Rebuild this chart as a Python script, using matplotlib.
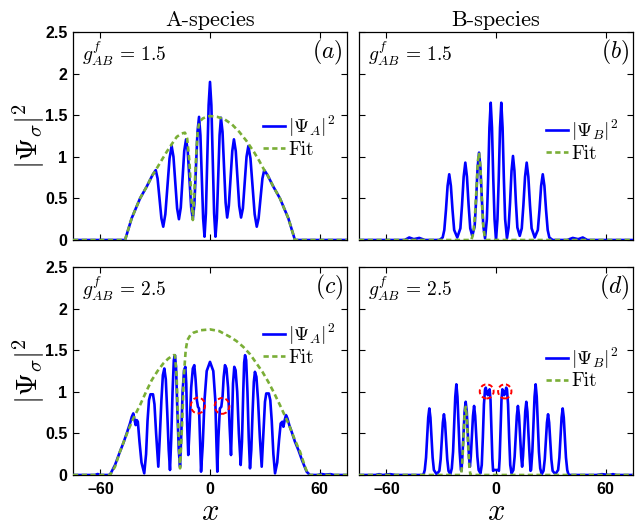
import matplotlib.pyplot as plt
import numpy as np
from matplotlib.patches import Ellipse

# ---- data: (x, |psi|^2) pairs ----

# (a) A-species, g = 1.5
a_psi = [(-75, 0), (-46.5, 0), (-42.9, 0.26), (-38.3, 0.50), (-34.7, 0.64), (-31.5, 0.78),
         (-29.7, 0.84), (-28.7, 0.74), (-27.65, 0.50), (-26.6, 0.26), (-25.6, 0.16),
         (-24.45, 0.31), (-23.3, 0.645), (-22.15, 0.98), (-21, 1.13), (-20, 1.0), (-19, 0.69),
         (-18, 0.38), (-17, 0.25), (-16, 0.39), (-15.05, 0.73), (-14.1, 1.07), (-13.1, 1.21),
         (-12.2, 1.07), (-11.25, 0.73), (-10.3, 0.39), (-9.4, 0.25), (-8.55, 0.43), (-7.7, 0.865),
         (-6.85, 1.30), (-6, 1.48), (-5.25, 1.26), (-4.5, 0.76), (-3.75, 0.26), (-3, 0.04),
         (-2.25, 0.32), (-1.5, 0.97), (-0.75, 1.62), (0, 1.90), (0.75, 1.62), (1.5, 0.97),
         (2.25, 0.32), (3, 0.04), (3.75, 0.26), (4.5, 0.76), (5.25, 1.26), (6, 1.47), (6.85, 1.30),
         (7.7, 0.87), (8.55, 0.45), (9.4, 0.27), (10.3, 0.41), (11.25, 0.74), (12.2, 1.07),
         (13.1, 1.21), (14.1, 1.07), (15.05, 0.74), (16, 0.41), (17, 0.27), (18, 0.38), (19, 0.69),
         (20, 1.0), (21, 1.13), (22.15, 0.98), (23.3, 0.645), (24.45, 0.31), (25.6, 0.16),
         (26.6, 0.26), (27.65, 0.50), (28.7, 0.74), (29.7, 0.84), (31.5, 0.78), (34.7, 0.64),
         (38.3, 0.50), (42.9, 0.26), (46.5, 0), (75, 0)]
a_fit = [(-75, 0), (-46.5, 0), (-42.9, 0.26), (-38.3, 0.50), (-34.7, 0.64), (-31.5, 0.78),
         (-29.7, 0.84), (-27, 0.94), (-23.7, 1.06), (-21, 1.15), (-18.2, 1.24), (-15.5, 1.28),
         (-13.7, 1.29), (-12.5, 1.22), (-11.3, 0.95), (-10.3, 0.55), (-9.4, 0.24), (-8.5, 0.6),
         (-7.6, 1.0), (-6.8, 1.3), (-5.8, 1.42), (-4, 1.46), (-2, 1.48), (0, 1.49), (4, 1.48),
         (8, 1.45), (12, 1.39), (16, 1.30), (20, 1.19), (24, 1.06), (27, 0.95), (29.7, 0.84),
         (31.5, 0.78), (34.7, 0.64), (38.3, 0.50), (42.9, 0.26), (46.5, 0), (75, 0)]

# (b) B-species, g = 1.5
b_psi = [(-75, 0), (-50, 0), (-47.5, 0.03), (-45, 0.01), (-42, 0.025), (-39, 0), (-31, 0),
         (-29.2, 0.03), (-28.3, 0.12), (-27.4, 0.36), (-26.5, 0.65), (-25.6, 0.79), (-24.7, 0.65),
         (-23.8, 0.36), (-22.9, 0.12), (-21.2, 0.03), (-19.5, 0.14), (-18.6, 0.42), (-17.7, 0.76),
         (-16.8, 0.93), (-15.9, 0.76), (-15.0, 0.42), (-14.1, 0.14), (-13.0, 0.05), (-11.7, 0.16),
         (-10.9, 0.47), (-10.1, 0.86), (-9.3, 1.05), (-8.5, 0.86), (-7.7, 0.47), (-6.9, 0.16),
         (-6.0, 0.02), (-5.0, 0.25), (-4.3, 0.74), (-3.6, 1.35), (-2.9, 1.65), (-2.2, 1.35),
         (-1.5, 0.74), (-0.8, 0.25), (0, 0), (0.8, 0.25), (1.5, 0.74), (2.2, 1.35), (2.9, 1.65),
         (3.6, 1.35), (4.3, 0.74), (5.0, 0.25), (6.0, 0.02), (6.9, 0.15), (7.7, 0.45), (8.5, 0.83),
         (9.3, 1.01), (10.1, 0.83), (10.9, 0.45), (11.7, 0.15), (13.0, 0.05), (14.1, 0.14),
         (15.0, 0.42), (15.9, 0.76), (16.8, 0.93), (17.7, 0.76), (18.6, 0.42), (19.5, 0.14),
         (21.2, 0.03), (22.9, 0.12), (23.8, 0.36), (24.7, 0.65), (25.6, 0.79), (26.5, 0.65),
         (27.4, 0.36), (28.3, 0.12), (29.2, 0.03), (31, 0), (39, 0), (42, 0.025), (45, 0.01),
         (47.5, 0.03), (50, 0), (75, 0)]
b_fit = [(-75, 0), (-13.5, 0), (-12.4, 0.08), (-11.5, 0.3), (-10.6, 0.65), (-9.9, 0.95),
         (-9.3, 1.05), (-8.6, 0.9), (-7.9, 0.55), (-7.1, 0.2), (-6.2, 0.03), (-5.5, 0), (75, 0)]

# (c) A-species, g = 2.5
c_psi = [(-75, 0), (-63, 0), (-61.5, 0.012), (-60, 0), (-55.5, 0), (-54.7, 0.005), (-52, 0.12),
         (-49.3, 0.28), (-47.5, 0.38), (-45.6, 0.50), (-43.8, 0.62), (-42.8, 0.70), (-42, 0.74),
         (-41.3, 0.66), (-40.7, 0.60), (-40.1, 0.66), (-39.5, 0.64), (-38.6, 0.40), (-37.5, 0.15),
         (-36.0, 0.02), (-35.0, 0.25), (-34.2, 0.65), (-33.4, 0.90), (-32.6, 0.97), (-31.2, 0.97),
         (-30.4, 0.85), (-29.5, 0.5), (-28.3, 0.10), (-27.5, 0.45), (-26.6, 0.90), (-25.8, 1.20),
         (-25.0, 1.28), (-24.2, 1.15), (-23.4, 0.75), (-22.6, 0.30), (-21.9, 0.06), (-21.2, 0.45),
         (-20.5, 1.0), (-19.8, 1.38), (-19.2, 1.44), (-18.6, 1.3), (-17.9, 0.8), (-17.1, 0.3),
         (-16.4, 0.10), (-15.7, 0.5), (-15.0, 1.0), (-14.2, 1.26), (-13.5, 1.30), (-13.0, 1.1),
         (-12.5, 0.6), (-11.9, 0.24), (-11.1, 0.6), (-10.3, 1.05), (-9.4, 1.28), (-8.6, 1.32),
         (-7.9, 1.15), (-7.2, 0.90), (-6.6, 0.82), (-6.0, 0.80), (-5.5, 0.45), (-4.9, 0.04),
         (-4.0, 0.35), (-3.0, 0.90), (-1.8, 1.25), (0, 1.36), (1.8, 1.25), (2.9, 0.90), (3.5, 0.40),
         (4.0, 0.04), (4.6, 0.45), (5.4, 0.80), (6.2, 0.82), (6.9, 0.95), (7.5, 1.18), (8.2, 1.32),
         (9.0, 1.28), (9.9, 1.05), (10.7, 0.6), (11.5, 0.24), (12.0, 0.6), (12.6, 1.1), (13.3, 1.30),
         (14.0, 1.26), (14.9, 1.0), (15.8, 0.5), (16.8, 0.12), (17.5, 0.4), (18.2, 1.0), (18.7, 1.35),
         (19.2, 1.44), (19.8, 1.38), (20.5, 1.0), (21.2, 0.45), (21.9, 0.08), (22.6, 0.3),
         (23.3, 0.75), (24.0, 1.12), (24.6, 1.24), (25.4, 1.18), (26.3, 0.9), (27.3, 0.45),
         (28.3, 0.10), (29.2, 0.5), (30.1, 0.88), (30.8, 0.98), (32.2, 0.98), (33.0, 0.90),
         (33.8, 0.65), (34.7, 0.25), (35.6, 0.02), (36.8, 0.15), (37.8, 0.42), (38.7, 0.62),
         (39.6, 0.64), (40.2, 0.58), (40.9, 0.66), (41.6, 0.72), (42.4, 0.68), (43.4, 0.60),
         (44.7, 0.52), (46.5, 0.40), (48.4, 0.30), (50.5, 0.17), (52.9, 0.04), (54.7, 0), (59, 0),
         (61, 0.012), (63, 0.005), (66, 0.01), (68, 0), (75, 0)]
c_fit = [(-75, 0), (-54.7, 0), (-52, 0.10), (-49.3, 0.28), (-46.5, 0.44), (-44.7, 0.54),
         (-42, 0.68), (-38.3, 0.84), (-35, 1.0), (-31.9, 1.14), (-28.7, 1.25), (-25.6, 1.34),
         (-22.8, 1.40), (-20.1, 1.44), (-19.2, 1.44), (-18.3, 1.2), (-17.4, 0.6), (-16.4, 0.08),
         (-15.3, 0.6), (-14.3, 1.2), (-13.3, 1.5), (-12.4, 1.62), (-10.8, 1.68), (-9.1, 1.71),
         (-5, 1.74), (0, 1.75), (5, 1.73), (11, 1.66), (14.5, 1.61), (18.2, 1.54), (22, 1.45),
         (25.5, 1.34), (28.7, 1.24), (31.9, 1.12), (35, 0.99), (38.3, 0.84), (42.9, 0.62),
         (46.5, 0.42), (49.3, 0.28), (52, 0.10), (53.8, 0), (75, 0)]

# (d) B-species, g = 2.5
d_psi = [(-75, 0), (-66, 0), (-64, 0.01), (-62, 0), (-58, 0.01), (-55, 0), (-40, 0), (-39.5, 0.02),
         (-39.0, 0.06), (-38.3, 0.21), (-37.7, 0.44), (-37.1, 0.69), (-36.5, 0.80), (-35.9, 0.69),
         (-35.3, 0.44), (-34.7, 0.21), (-34.0, 0.06), (-32.5, 0.01), (-31.0, 0.05), (-30.3, 0.19),
         (-29.7, 0.40), (-29.1, 0.63), (-28.5, 0.73), (-27.9, 0.63), (-27.3, 0.40), (-26.7, 0.19),
         (-26.0, 0.05), (-25.0, 0.01), (-24.2, 0.08), (-23.5, 0.28), (-22.9, 0.60), (-22.3, 0.94),
         (-21.7, 1.09), (-21.1, 0.94), (-20.5, 0.60), (-19.9, 0.28), (-19.2, 0.06), (-18.9, 0.05),
         (-18.4, 0.23), (-17.8, 0.48), (-17.2, 0.76), (-16.6, 0.88), (-16.0, 0.76), (-15.4, 0.48),
         (-14.8, 0.23), (-14.3, 0.10), (-13.8, 0.22), (-13.2, 0.46), (-12.6, 0.71), (-12.0, 0.83),
         (-11.4, 0.71), (-10.8, 0.46), (-10.2, 0.22), (-9.5, 0.06), (-8.5, 0.02), (-7.8, 0.12),
         (-7.2, 0.45), (-6.6, 0.85), (-6.0, 1.03), (-5.6, 1.05), (-5.0, 0.99), (-4.5, 0.96),
         (-4.0, 1.00), (-3.5, 1.03), (-3.0, 0.90), (-2.5, 0.55), (-2.0, 0.20), (-1.6, 0.05),
         (-1.3, 0.06), (1.3, 0.06), (1.6, 0.05), (2.0, 0.20), (2.5, 0.55), (3.0, 0.90), (3.5, 1.03),
         (4.0, 1.00), (4.5, 0.96), (5.0, 0.99), (5.6, 1.05), (6.0, 1.03), (6.6, 0.85), (7.2, 0.45),
         (7.8, 0.12), (8.5, 0.02), (9.5, 0.06), (10.2, 0.22), (10.8, 0.46), (11.4, 0.71),
         (12.0, 0.83), (12.6, 0.71), (13.2, 0.46), (13.8, 0.22), (14.3, 0.10), (14.8, 0.23),
         (15.4, 0.48), (16.0, 0.76), (16.6, 0.88), (17.2, 0.76), (17.8, 0.48), (18.4, 0.23),
         (18.9, 0.05), (19.2, 0.06), (19.9, 0.28), (20.5, 0.60), (21.1, 0.94), (21.7, 1.09),
         (22.3, 0.94), (22.9, 0.60), (23.5, 0.28), (24.2, 0.08), (25.0, 0.01), (26.0, 0.05),
         (26.7, 0.19), (27.3, 0.40), (27.9, 0.63), (28.5, 0.73), (29.1, 0.63), (29.7, 0.40),
         (30.3, 0.19), (31.0, 0.05), (32.5, 0.01), (34.0, 0.06), (34.7, 0.21), (35.3, 0.44),
         (35.9, 0.69), (36.5, 0.80), (37.1, 0.69), (37.7, 0.44), (38.3, 0.21), (39.0, 0.06),
         (39.5, 0.02), (40, 0), (55, 0), (58, 0.01), (62, 0), (64, 0.01), (66, 0), (75, 0)]
d_fit = [(-75, 0), (-19.2, 0), (-18.6, 0.1), (-17.9, 0.4), (-17.2, 0.72), (-16.6, 0.82),
         (-16.0, 0.70), (-15.3, 0.38), (-14.6, 0.1), (-14, 0), (75, 0)]

# red dashed marks: (x centre, y centre, width, height)
c_marks = [(-6.6, 0.835, 7.7, 0.19), (6.6, 0.83, 8.0, 0.19)]
d_marks = [(-5.1, 1.005, 7.6, 0.17), (4.8, 1.005, 7.3, 0.17)]

x_ticks = [-60, 0, 60]
y_ticks = [0, 0.5, 1, 1.5, 2, 2.5]
y_ticklabels = ["0", "0.5", "1", "1.5", "2", "2.5"]

BLUE = "#0000ff"
GREEN = "#7aae36"

plt.rcParams["mathtext.fontset"] = "cm"
tick_font = {"family": "Liberation Sans", "weight": "bold", "size": 11.5}

fig = plt.figure(figsize=(6.44, 5.2), dpi=100)
W, H = 644, 520


def make_axes(left, top, right, bottom):
    return fig.add_axes([left / W, 1 - bottom / H, (right - left) / W, (bottom - top) / H])


panels = [
    dict(box=(73, 32, 347, 240), psi=a_psi, fit=a_fit, tag="(a)", g="1.5",
         leg=r"$|\Psi_A|^2$", leg_x=0.693, leg_y=0.50, marks=[], left=True, bottom=False,
         title="A-species"),
    dict(box=(359, 32, 633, 240), psi=b_psi, fit=b_fit, tag="(b)", g="1.5",
         leg=r"$|\Psi_B|^2$", leg_x=0.682, leg_y=0.48, marks=[], left=False, bottom=False,
         title="B-species"),
    dict(box=(73, 267, 347, 475), psi=c_psi, fit=c_fit, tag="(c)", g="2.5",
         leg=r"$|\Psi_A|^2$", leg_x=0.693, leg_y=0.63, marks=c_marks, left=True, bottom=True,
         title=None),
    dict(box=(359, 267, 633, 475), psi=d_psi, fit=d_fit, tag="(d)", g="2.5",
         leg=r"$|\Psi_B|^2$", leg_x=0.682, leg_y=0.515, marks=d_marks, left=False, bottom=True,
         title=None),
]

for p in panels:
    ax = make_axes(*p["box"])
    psi = np.array(p["psi"])
    fit = np.array(p["fit"])
    ax.plot(psi[:, 0], psi[:, 1], color=BLUE, lw=1.9, label=p["leg"], zorder=3)
    ax.plot(fit[:, 0], fit[:, 1], color=GREEN, lw=1.9, ls=(0, (2.0, 1.3)), label="Fit", zorder=4)

    for (mx, my, mw, mh) in p["marks"]:
        ax.add_patch(Ellipse((mx, my), mw, mh, fill=False, ec="red", lw=1.4,
                             ls=(0, (2.5, 1.5)), zorder=5))

    ax.set_xlim(-75, 75)
    ax.set_ylim(0, 2.5)
    ax.set_xticks(x_ticks)
    ax.set_yticks(y_ticks)
    ax.tick_params(direction="in", length=4, width=0.8, top=True, right=True, pad=4)
    for s in ax.spines.values():
        s.set_linewidth(0.9)

    if p["left"]:
        ax.set_yticklabels(y_ticklabels, fontdict=tick_font)
        ax.set_ylabel(r"$|\Psi_\sigma|^2$", fontsize=21)
        ax.yaxis.set_label_coords(-0.095, 0.5)
    else:
        ax.set_yticklabels([])
    if p["bottom"]:
        ax.set_xticklabels([str(t) if t >= 0 else "\u2013" + str(-t) for t in x_ticks],
                           fontdict=tick_font)
        ax.tick_params(axis="x", pad=5)
        ax.set_xlabel(r"$x$", fontsize=22)
        ax.xaxis.set_label_coords(0.5, -0.105)
    else:
        ax.set_xticklabels([])

    if p["title"]:
        ax.set_title(p["title"], family="cmr10", fontsize=16, pad=4)

    ax.text(0.033, 0.86, r"$g^{f}_{AB}\,=\,%s$" % p["g"], transform=ax.transAxes,
            fontsize=14, ha="left", va="baseline")
    ax.text(0.985, 0.875, r"$%s$" % p["tag"], transform=ax.transAxes,
            fontsize=17, ha="right", va="baseline")

    ax.legend(loc="center left", bbox_to_anchor=(p["leg_x"], p["leg_y"]), frameon=False,
              prop={"family": "cmr10", "size": 14}, borderpad=0,
              borderaxespad=0, handlelength=1.15, handletextpad=0.15, labelspacing=0.1)

fig.savefig("out.png", dpi=100)
